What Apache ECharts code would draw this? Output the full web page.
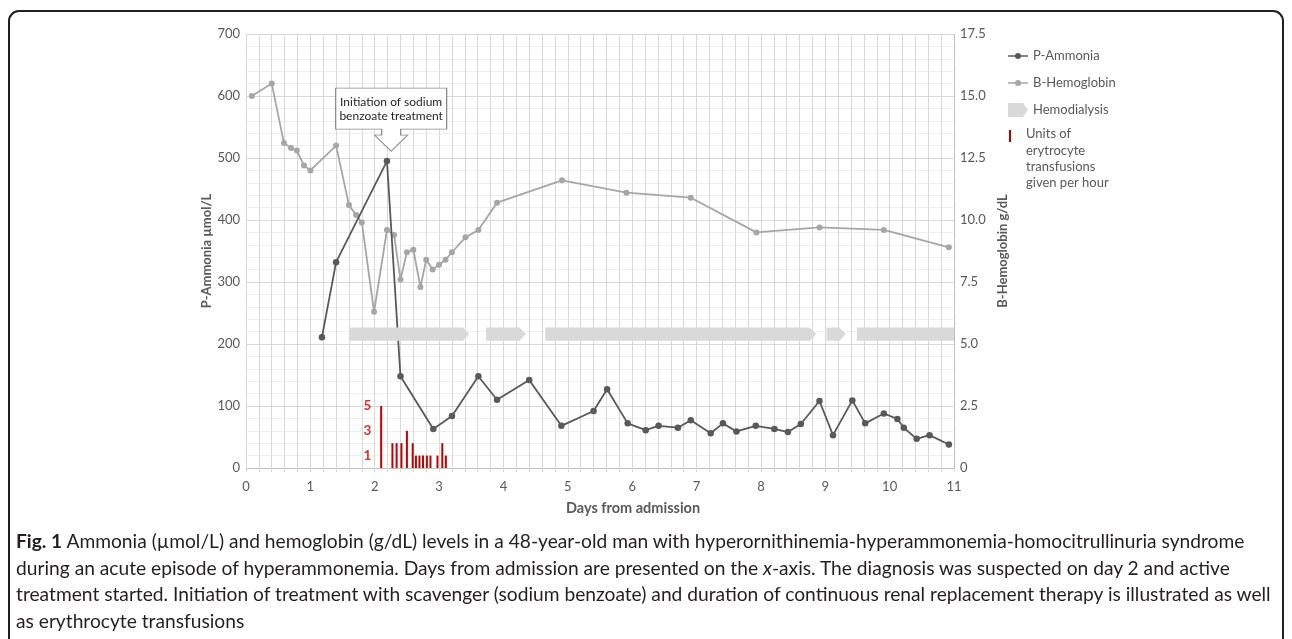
<!DOCTYPE html>
<html>
<head>
<meta charset="utf-8">
<script src="https://cdn.jsdelivr.net/npm/echarts@6/dist/echarts.min.js"></script>
<style>
html, body { margin: 0; padding: 0; background: #ffffff; }
#frame { position: absolute; left: 8px; top: 10px; width: 1272px; height: 700px; border: 2px solid #231f20; border-radius: 11px; }
#chart { position: absolute; left: 0; top: 0; width: 1292px; height: 639px; }
#caption { position: absolute; left: 16px; top: 528px; font-family: Lato, sans-serif; font-size: 19.2px; line-height: 26.5px; color: #231f20; white-space: nowrap; }
</style>
</head>
<body>
<div id="frame"></div>
<div id="chart"></div>
<div id="caption"><b>Fig. 1</b> Ammonia (µmol/L) and hemoglobin (g/dL) levels in a 48-year-old man with hyperornithinemia-hyperammonemia-homocitrullinuria syndrome<br>during an acute episode of hyperammonemia. Days from admission are presented on the <i>x</i>-axis. The diagnosis was suspected on day 2 and active<br>treatment started. Initiation of treatment with scavenger (sodium benzoate) and duration of continuous renal replacement therapy is illustrated as well<br>as erythrocyte transfusions</div>
<script>
// ---------------- data ----------------
const ammoniaDays = [1.18, 1.40, 2.19, 2.40, 2.91, 3.20, 3.61, 3.90, 4.40, 4.90, 5.40, 5.61, 5.93, 6.21, 6.41, 6.71, 6.91, 7.22, 7.41, 7.62, 7.92, 8.21, 8.42, 8.62, 8.91, 9.12, 9.42, 9.62, 9.91, 10.12, 10.22, 10.42, 10.62, 10.92];
const ammoniaValues = [211, 332, 495, 148, 63, 84, 148, 110, 142, 68, 92, 127, 72, 61, 68, 65, 77, 56, 72, 59, 68, 63, 58, 71, 108, 53, 109, 72, 88, 79, 65, 47, 53, 38];

const hemoglobinDays = [0.09, 0.40, 0.59, 0.70, 0.79, 0.90, 1.00, 1.40, 1.60, 1.71, 1.80, 1.99, 2.19, 2.30, 2.40, 2.50, 2.60, 2.71, 2.80, 2.90, 3.00, 3.10, 3.20, 3.41, 3.61, 3.90, 4.91, 5.91, 6.91, 7.93, 8.91, 9.91, 10.92];
const hemoglobinValues = [15.0, 15.5, 13.1, 12.9, 12.8, 12.2, 12.0, 13.0, 10.6, 10.2, 9.9, 6.3, 9.6, 9.4, 7.6, 8.7, 8.8, 7.3, 8.4, 8.0, 8.2, 8.4, 8.7, 9.3, 9.6, 10.7, 11.6, 11.1, 10.9, 9.5, 9.7, 9.6, 8.9];

const transfusionDays = [2.10, 2.275, 2.34, 2.415, 2.50, 2.59, 2.64, 2.695, 2.75, 2.81, 2.866, 2.975, 3.05, 3.105];
const transfusionUnits = [5, 2, 2, 2, 3, 2, 1, 1, 1, 1, 1, 1, 2, 1];
const transfusionScaleLabels = [5, 3, 1];

const hemodialysisStart = [1.61, 3.73, 4.65, 9.02, 9.49];
const hemodialysisEnd = [3.47, 4.35, 8.86, 9.32, 11.0];

const ammoniaTicks = [0, 100, 200, 300, 400, 500, 600, 700];
const hemoglobinTicks = [0, 2.5, 5.0, 7.5, 10.0, 12.5, 15.0, 17.5];
const dayTicks = [0, 1, 2, 3, 4, 5, 6, 7, 8, 9, 10, 11];

const calloutText = 'Initiation of sodium\nbenzoate treatment';
const calloutAt = [2.255, 511];
const transfusionLegendText = 'Units of\nerytrocyte\ntransfusions\ngiven per hour';
// --------------------------------------

const FONT = 'Lato, sans-serif';
const GREY_TEXT = '#595959';
const HD_LEVEL = 5.4;          // g/dL row where the hemodialysis bars sit
const TX_LABEL_DAY = 1.887;    // day where the transfusion unit labels sit
const TX_NAME = 'Units of erytrocyte transfusions given per hour';
const LINE_ICON = 'path://M0,6.25 L20,6.25 L20,7.75 L0,7.75 Z M13,7 A3,3 0 1 1 7,7 A3,3 0 1 1 13,7 Z';

const chart = echarts.init(document.getElementById('chart'), null, { renderer: 'canvas' });

const option = {
  animation: false,
  backgroundColor: 'transparent',
  textStyle: { fontFamily: FONT },
  grid: { left: 246, right: 338, top: 34, bottom: 171, containLabel: false },
  legend: {
    orient: 'vertical',
    left: 1003,
    top: 43,
    itemWidth: 20,
    itemHeight: 14,
    itemGap: 11,
    selectedMode: false,
    textStyle: { color: GREY_TEXT, fontSize: 13, fontFamily: FONT, lineHeight: 16 },
    data: [
      { name: 'P-Ammonia', icon: LINE_ICON },
      { name: 'B-Hemoglobin', icon: LINE_ICON },
      { name: 'Hemodialysis', icon: 'path://M0,0 L15,0 L20,7 L15,14 L0,14 Z', itemStyle: { color: '#d9d9d9' } }
    ]
  },
  graphic: [
    { type: 'rect', left: 1009, top: 130, shape: { width: 2, height: 12 }, style: { fill: '#c00000' }, silent: true },
    { type: 'text', left: 1026, top: 126, silent: true,
      style: { text: transfusionLegendText, fill: GREY_TEXT, fontSize: 13, fontFamily: FONT, lineHeight: 16.3 } }
  ],
  xAxis: {
    type: 'value',
    min: dayTicks[0],
    max: dayTicks[dayTicks.length - 1],
    interval: 0.2,
    name: 'Days from admission',
    nameLocation: 'middle',
    nameGap: 33,
    nameTextStyle: { fontFamily: FONT, fontSize: 14.5, fontWeight: 'bold', color: GREY_TEXT, padding: [0, 0, 0, 66] },
    axisLine: { show: true, lineStyle: { color: '#bfbfbf', width: 1 } },
    axisTick: { show: true, length: 4, lineStyle: { color: '#d9d9d9' } },
    axisLabel: {
      margin: 12, color: GREY_TEXT, fontSize: 13, fontFamily: FONT,
      formatter: function (v) { const r = Math.round(v); return (Math.abs(v - r) < 1e-6 && dayTicks.indexOf(r) >= 0) ? String(r) : ''; }
    },
    splitLine: { show: true, lineStyle: { color: '#d9d9d9', width: 1 } }
  },
  yAxis: [
    {
      type: 'value', position: 'left',
      min: ammoniaTicks[0], max: ammoniaTicks[ammoniaTicks.length - 1], interval: ammoniaTicks[1] - ammoniaTicks[0],
      name: 'P-Ammonia µmol/L', nameLocation: 'middle', nameRotate: 90, nameGap: 33, nameMoveOverlap: false,
      nameTextStyle: { fontFamily: FONT, fontSize: 13, fontWeight: 'bold', color: GREY_TEXT },
      axisLine: { show: false }, axisTick: { show: false },
      axisLabel: { margin: 6, color: GREY_TEXT, fontSize: 13, fontFamily: FONT },
      splitLine: { show: true, lineStyle: { color: '#d9d9d9', width: 1 } },
      minorTick: { show: false, splitNumber: 5 },
      minorSplitLine: { show: true, lineStyle: { color: '#efefef', width: 1 } }
    },
    {
      type: 'value', position: 'right',
      min: hemoglobinTicks[0], max: hemoglobinTicks[hemoglobinTicks.length - 1], interval: hemoglobinTicks[1] - hemoglobinTicks[0],
      name: 'B-Hemoglobin g/dL', nameLocation: 'middle', nameRotate: 90, nameGap: 40,
      nameTextStyle: { fontFamily: FONT, fontSize: 13, fontWeight: 'bold', color: GREY_TEXT },
      axisLine: { show: true, lineStyle: { color: '#bfbfbf', width: 1 } }, axisTick: { show: false },
      axisLabel: { margin: 6, color: GREY_TEXT, fontSize: 13, fontFamily: FONT,
        formatter: function (v) { return v === 0 ? '0' : v.toFixed(1); } },
      splitLine: { show: false }
    },
    { type: 'value', min: 0, max: 35, show: false }
  ],
  series: [
    {
      name: 'B-Hemoglobin', type: 'line', yAxisIndex: 1, z: 2,
      data: hemoglobinDays.map(function (d, i) { return [d, hemoglobinValues[i]]; }),
      symbol: 'circle', symbolSize: 6, showSymbol: true,
      lineStyle: { color: '#a6a6a6', width: 1.8 },
      itemStyle: { color: '#a6a6a6' }
    },
    {
      name: 'P-Ammonia', type: 'line', yAxisIndex: 0, z: 3,
      data: ammoniaDays.map(function (d, i) { return [d, ammoniaValues[i]]; }),
      symbol: 'circle', symbolSize: 6.5, showSymbol: true,
      lineStyle: { color: '#595959', width: 1.8 },
      itemStyle: { color: '#595959' },
      markPoint: {
        silent: true,
        symbol: 'path://M0,0 L111,0 L111,41 L65,41 L65,47 L72,47 L55.5,63 L39,47 L46,47 L46,41 L0,41 Z',
        symbolSize: [111, 63],
        symbolOffset: [0, -31.5],
        itemStyle: { color: '#ffffff', borderColor: '#8c8c8c', borderWidth: 1 },
        label: { show: true, position: 'inside', offset: [0, -11], color: '#262626', fontSize: 12, lineHeight: 14, fontFamily: FONT,
          formatter: function (p) { return p.name; } },
        data: [{ name: calloutText, coord: calloutAt }]
      }
    },
    {
      name: 'Hemodialysis', type: 'custom', yAxisIndex: 1, z: 4,
      encode: { x: [0, 1], y: 2 },
      itemStyle: { color: '#d9d9d9' },
      data: hemodialysisStart.map(function (s, i) { return [s, hemodialysisEnd[i], HD_LEVEL]; }),
      renderItem: function (params, api) {
        const p0 = api.coord([api.value(0), api.value(2)]);
        const p1 = api.coord([api.value(1), api.value(2)]);
        const h = 13.4, tip = 6.5, y = p0[1];
        const xmax = params.coordSys.x + params.coordSys.width;
        let pts;
        if (p1[0] >= xmax - 0.5) {
          pts = [[p0[0], y - h / 2], [xmax, y - h / 2], [xmax, y + h / 2], [p0[0], y + h / 2]];
        } else {
          pts = [[p0[0], y - h / 2], [p1[0] - tip, y - h / 2], [p1[0], y], [p1[0] - tip, y + h / 2], [p0[0], y + h / 2]];
        }
        return { type: 'polygon', shape: { points: pts }, style: { fill: '#d9d9d9' } };
      }
    },
    {
      name: TX_NAME, type: 'bar', yAxisIndex: 2, z: 4,
      barWidth: 2,
      itemStyle: { color: '#c00000' },
      data: transfusionDays.map(function (d, i) { return [d, transfusionUnits[i]]; })
    },
    {
      name: 'transfusion-scale', type: 'scatter', yAxisIndex: 2, z: 4, silent: true,
      symbolSize: 1, itemStyle: { color: 'rgba(0,0,0,0)' },
      label: { show: true, position: 'inside', color: '#c00000', fontWeight: 'bold', fontSize: 13.5, fontFamily: FONT,
        formatter: function (p) { return String(p.value[1]); } },
      data: transfusionScaleLabels.map(function (u) { return [TX_LABEL_DAY, u]; })
    }
  ]
};

chart.setOption(option);
</script>
</body>
</html>
